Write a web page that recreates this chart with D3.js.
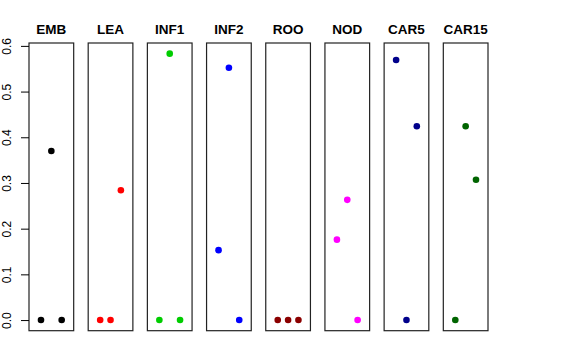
<!DOCTYPE html>
<html>
<head>
<meta charset="utf-8">
<script src="https://cdn.jsdelivr.net/npm/d3@7"></script>
<style>
  body { margin: 0; background: #fff; }
  text { font-family: "Liberation Sans", Arial, sans-serif; }
</style>
</head>
<body>
<div id="chart"></div>
<script>
// Chart size
const width = 576;
const height = 360;

// Data: one panel per stage, three values each
const stages = ["EMB", "LEA", "INF1", "INF2", "ROO", "NOD", "CAR5", "CAR15"];
const positions = [1, 2, 3];
const values = {
    EMB:   [0, 0.370, 0],
    LEA:   [0, 0, 0.284],
    INF1:  [0, 0.583, 0],
    INF2:  [0.153, 0.552, 0],
    ROO:   [0, 0, 0],
    NOD:   [0.176, 0.263, 0],
    CAR5:  [0.569, 0, 0.424],
    CAR15: [0, 0.424, 0.307]
};
const colors = ["#000000", "#FF0000", "#00CD00", "#0000FF", "#8B0000", "#FF00FF", "#00008B", "#006400"];
const yTicks = [0, 0.1, 0.2, 0.3, 0.4, 0.5, 0.6];

const svg = d3.select("#chart")
    .append("svg")
    .attr("width", width)
    .attr("height", height);

// Outer scale places the panels
const panel = d3.scaleBand()
    .domain(stages)
    .range([29, 488])
    .paddingInner(0.245)
    .paddingOuter(0);

// Inner x scale (R style 4% padding around 0..4)
const x = d3.scaleLinear()
    .domain([-0.16, 4.16])
    .range([0, panel.bandwidth()]);

// Shared y scale
const y = d3.scaleLinear()
    .domain([-0.0233, 0.6063])
    .range([330.7, 43]);

const color = d3.scaleOrdinal().domain(stages).range(colors);

// Panels
const g = svg.selectAll("g.panel")
    .data(stages)
    .enter().append("g")
    .attr("class", "panel")
    .attr("transform", d => `translate(${panel(d)},0)`);

g.append("rect")
    .attr("x", 0)
    .attr("y", y.range()[1])
    .attr("width", panel.bandwidth())
    .attr("height", y.range()[0] - y.range()[1])
    .attr("fill", "none")
    .attr("stroke", "#222")
    .attr("stroke-width", 1.2);

g.append("text")
    .attr("x", panel.bandwidth() / 2)
    .attr("y", 34)
    .attr("text-anchor", "middle")
    .attr("font-size", 13.5)
    .attr("font-weight", "bold")
    .text(d => d);

g.selectAll("circle")
    .data(d => values[d].map((v, i) => ({ stage: d, pos: positions[i], value: v })))
    .enter().append("circle")
    .attr("cx", d => x(d.pos))
    .attr("cy", d => y(d.value))
    .attr("r", 3.3)
    .attr("fill", d => color(d.stage));

// Y axis on the first panel, labels rotated like R
const yAxis = svg.append("g")
    .attr("transform", `translate(${panel(stages[0])},0)`)
    .call(d3.axisLeft(y).tickValues(yTicks).tickFormat(d3.format(".1f"))
        .tickSize(8).tickSizeOuter(0).tickPadding(4));

yAxis.select(".domain").remove();
yAxis.selectAll(".tick line").attr("stroke", "#000");
yAxis.selectAll(".tick text")
    .attr("font-size", 12)
    .attr("font-family", "Liberation Sans, Arial, sans-serif")
    .attr("fill", "#000")
    .attr("text-anchor", "middle")
    .attr("dy", null)
    .attr("x", null)
    .attr("transform", "translate(-22,0) rotate(-90)")
    .attr("dominant-baseline", "central");
</script>
</body>
</html>
